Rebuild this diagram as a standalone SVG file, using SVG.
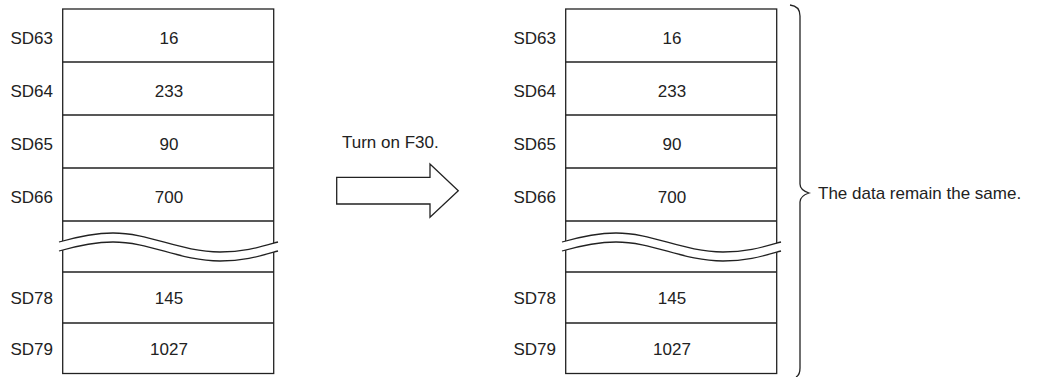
<svg xmlns="http://www.w3.org/2000/svg" width="1045" height="377" viewBox="0 0 1045 377">
<defs>
<style>
.t{font-family:"Liberation Sans",Arial,sans-serif;font-size:17px;fill:#222}
.m{text-anchor:middle}
.e{text-anchor:end}
.b{fill:#fff;stroke:#222;stroke-width:1.3}
.l{fill:none;stroke:#222;stroke-width:1.3}
</style>
<g id="tbl">
<rect class="b" x="62.7" y="9" width="211" height="364.5"/>
<path class="l" d="M62.7,62H273.7M62.7,115H273.7M62.7,168H273.7M62.7,221H273.7M62.7,272H273.7M62.7,323H273.7"/>
<path fill="#fff" stroke="none" d="M59,242 C80,236 95,233 113,233 C150,233 180,252 220,252 C245,252 260,247 278,242 L278,251 C260,256 245,261 220,261 C180,261 150,242 113,242 C95,242 80,245 59,251 Z"/>
<path class="l" d="M59,242 C80,236 95,233 113,233 C150,233 180,252 220,252 C245,252 260,247 278,242"/>
<path class="l" d="M59,251 C80,245 95,242 113,242 C150,242 180,261 220,261 C245,261 260,256 278,251"/>
<g class="t">
<text class="e" x="53" y="44">SD63</text>
<text class="e" x="53" y="97">SD64</text>
<text class="e" x="53" y="150">SD65</text>
<text class="e" x="53" y="203">SD66</text>
<text class="e" x="53" y="304">SD78</text>
<text class="e" x="53" y="355">SD79</text>
<text class="m" x="169" y="44">16</text>
<text class="m" x="169" y="97">233</text>
<text class="m" x="169" y="150">90</text>
<text class="m" x="169" y="203">700</text>
<text class="m" x="169" y="304">145</text>
<text class="m" x="169" y="355">1027</text>
</g>
</g>
</defs>
<g id="before"><use href="#tbl"/></g>
<g id="after"><use href="#tbl" transform="translate(503,0)"/></g>
<g id="connectors">
<polygon id="arrow" class="b" stroke-width="1" points="336.7,177.3 430,177.3 430,164 458.3,190.7 430,217.3 430,204 336.7,204"/>
<path id="brace" class="l" stroke-width="1.2" d="M790,5 Q800,6 800,16 L800,184 Q800,190 809,193 Q800,196 800,202 L800,368 Q800,375 796,377"/>
</g>
<g id="labels" class="t">
<text x="342" y="148">Turn on F30.</text>
<text x="818" y="199">The data remain the same.</text>
</g>
</svg>
